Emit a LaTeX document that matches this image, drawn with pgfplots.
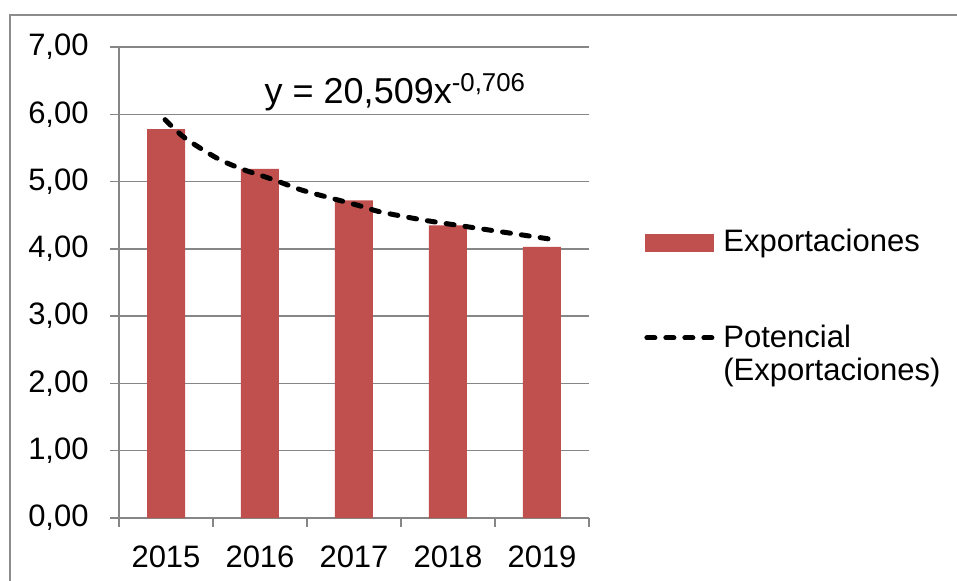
\documentclass[border=0pt]{standalone}
\usepackage{fontspec}
\setmainfont{Liberation Sans}
\usepackage{pgfplots}
\pgfplotsset{compat=1.18}
\definecolor{barred}{HTML}{C0504D}
\definecolor{axgray}{HTML}{868686}
\definecolor{framegray}{HTML}{8C8C8C}

\begin{document}
\fontsize{15.5}{18}\selectfont
\begin{tikzpicture}
\useasboundingbox (0,0) rectangle (478.5pt,290pt);
% chart frame (bottom edge lies outside the picture)
\draw[framegray, line width=1pt] (5pt,-5pt) -- (5pt,282.5pt) -- (485pt,282.5pt);
\begin{axis}[
  at={(59.5pt,31pt)}, anchor=south west,
  scale only axis, width=235pt, height=235.5pt,
  xmin=0.5, xmax=5.5, ymin=0, ymax=7,
  axis lines*=left,
  axis line style={axgray, line width=0.7pt},
  ytick={0,...,7},
  xtick={0.5,1.5,...,5.5},
  x tick label as interval,
  xticklabels={2015,2016,2017,2018,2019},
  tick align=outside,
  major tick length=4.5pt,
  tick style={axgray, line width=0.7pt},
  ymajorgrids, grid style={axgray, line width=0.7pt},
  /pgf/number format/fixed,
  /pgf/number format/fixed zerofill,
  /pgf/number format/precision=2,
  /pgf/number format/use comma,
  /pgf/number format/assume math mode=true,
  tick label style={font=\fontsize{15.5}{18}\selectfont, inner sep=0pt},
  yticklabel style={anchor=east, xshift=-10.5pt},
  xticklabel style={anchor=north, yshift=-9pt},
  legend cell align=left,
  legend style={at={(1.117,0.623)}, anchor=north west, draw=none, fill=none,
    inner sep=0pt, row sep=30pt, font=\fontsize{15.5}{16.5}\selectfont,
    /tikz/every even column/.style={column sep=0pt}},
]
\addplot[ybar, bar width=19pt, bar shift=0pt, fill=barred, draw=none,
  legend image code/.code={\fill[barred] (0pt,-4.5pt) rectangle (34.5pt,4.5pt);}]
  table {
x y
1 5.78
2 5.19
3 4.72
4 4.35
5 4.03
};
\addlegendentry{Exportaciones}
\addplot[black, line width=2.5pt, dash pattern=on 4pt off 5.5pt, line cap=round, smooth,
  legend image code/.code={\draw[black, line width=2.5pt, dash pattern=on 4pt off 5.5pt, line cap=round] (1pt,0pt) -- (36pt,0pt);}]
  table {
x y
0.99 5.92
1.20 5.65
1.54 5.35
1.82 5.18
2.14 5.03
2.43 4.88
2.74 4.76
3.06 4.64
3.28 4.55
3.73 4.43
4.20 4.33
4.63 4.24
5.11 4.14
};
\addlegendentry{\begin{tabular}[t]{@{}l@{}}Potencial\\(Exportaciones)\end{tabular}}
\node[font=\fontsize{18}{20}\selectfont] at (axis cs:3.44,6.33) {y = 20,509x\textsuperscript{\fontsize{12.9}{14}\selectfont -0,706}};
\end{axis}
\end{tikzpicture}
\end{document}
